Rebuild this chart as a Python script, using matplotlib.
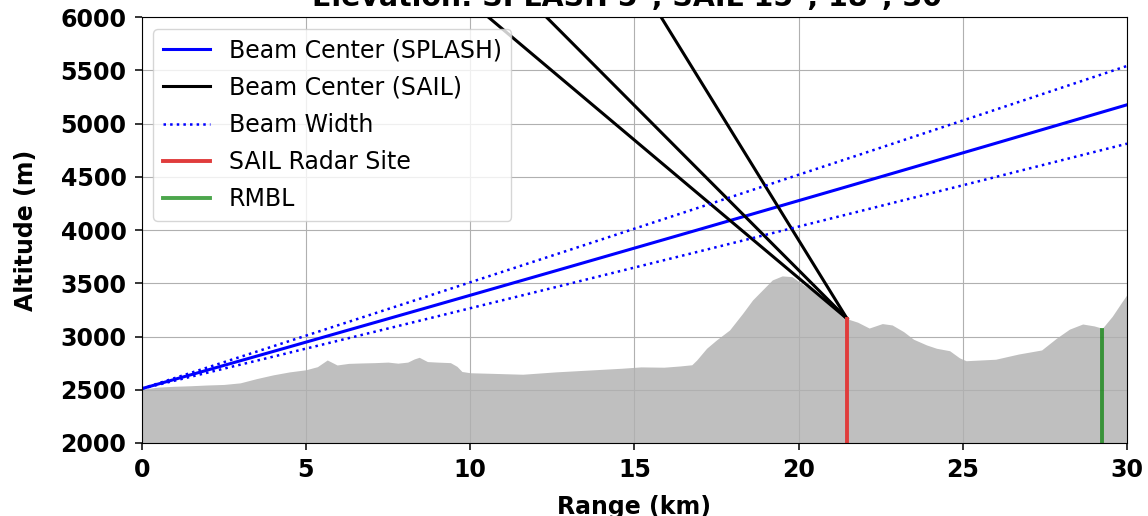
import numpy as np
import matplotlib.pyplot as plt

# terrain profile along the SPLASH beam azimuth
terrain_km = [0, 0.5, 1.0, 1.5, 2.0, 2.5, 3.0, 3.5, 4.0, 4.5,
              5.0, 5.35, 5.65, 5.95, 6.3, 6.7, 7.1, 7.5, 7.8, 8.1,
              8.3, 8.45, 8.7, 9.0, 9.4, 9.6, 9.75, 10.0, 10.6, 11.6,
              12.6, 13.6, 14.6, 15.2, 15.9, 16.4, 16.75, 16.9, 17.2, 17.5,
              17.9, 18.3, 18.6, 18.9, 19.2, 19.5, 19.8, 20.15, 20.55, 20.95,
              21.48, 21.8, 22.15, 22.55, 22.85, 23.2, 23.5, 23.9, 24.2, 24.6,
              24.9, 25.1, 26.0, 26.7, 27.4, 27.85, 28.25, 28.65, 29.0, 29.25,
              29.55, 29.85, 30.0]
terrain_alt = [2505, 2525, 2533, 2538, 2545, 2550, 2565, 2605, 2640, 2668,
               2688, 2717, 2780, 2733, 2748, 2752, 2755, 2760, 2750, 2760,
               2790, 2805, 2765, 2760, 2755, 2720, 2672, 2660, 2655, 2646,
               2668, 2685, 2702, 2715, 2712, 2724, 2735, 2780, 2890, 2968,
               3062, 3219, 3344, 3438, 3532, 3570, 3563, 3485, 3407, 3297,
               3167, 3135, 3080, 3122, 3109, 3046, 2975, 2921, 2890, 2867,
               2800, 2773, 2787, 2836, 2874, 2984, 3070, 3118, 3100, 3078,
               3190, 3328, 3395]

splash_elev = 5.0      # deg
beam_half = 0.7        # deg
splash_alt = 2510.0    # m

sail_elevs = [15.0, 18.0, 30.0]   # deg
sail_km = 21.48
sail_alt = 3167.0
rmbl_km = 29.23
rmbl_alt = 3062.0

ke_a = 4.0 / 3.0 * 6371.0e3   # effective earth radius [m]


def beam_height(r_m, elev_deg, h0):
    return h0 + r_m * np.sin(np.deg2rad(elev_deg)) + r_m**2 / (2 * ke_a)


r = np.linspace(0, 30e3, 500)

plt.rcParams['font.size'] = 17
fig = plt.figure(figsize=(11.48, 5.16), dpi=100)
ax = fig.add_axes([0.1234, 0.1415, 0.8583, 0.825])

ax.fill_between(terrain_km, 2000, terrain_alt, color='gray', alpha=0.5, lw=0)

ax.plot(r / 1e3, beam_height(r, splash_elev, splash_alt), color='blue', lw=2.2,
        label='Beam Center (SPLASH)')
for i, el in enumerate(sail_elevs):
    ax.plot(sail_km - r / 1e3, beam_height(r, el, sail_alt), color='black', lw=2.2,
            label='Beam Center (SAIL)' if i == 0 else None)
ax.plot(r / 1e3, beam_height(r, splash_elev + beam_half, splash_alt), color='blue',
        ls=':', lw=1.8, label='Beam Width')
ax.plot(r / 1e3, beam_height(r, splash_elev - beam_half, splash_alt), color='blue',
        ls=':', lw=1.8)

ax.plot([sail_km, sail_km], [2000, sail_alt], color='#e03c3c', lw=2.8,
        label='SAIL Radar Site')
ax.plot([rmbl_km, rmbl_km], [2000, rmbl_alt], color='green', alpha=0.7, lw=2.8,
        label='RMBL')

ax.set_xlim(0, 30)
ax.set_ylim(2000, 6000)
ax.set_yticks(np.arange(2000, 6001, 500))
ax.grid(True)
ax.tick_params(length=5, width=1.1, pad=6)
for lab in ax.get_xticklabels() + ax.get_yticklabels():
    lab.set_fontweight('bold')
ax.set_xlabel('Range (km)', fontweight='bold', labelpad=9)
ax.set_ylabel('Altitude (m)', fontweight='bold', labelpad=16)
ax.set_title('Elevation: SPLASH 5°, SAIL 15°, 18°, 30°', fontweight='bold', pad=8)
ax.legend(loc='upper left', labelspacing=0.56)

fig.savefig('out.png', dpi=100)
